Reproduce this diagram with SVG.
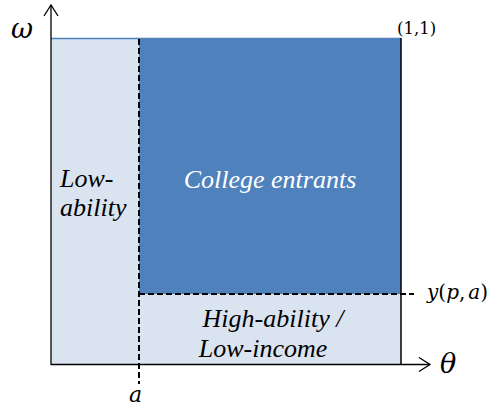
<svg xmlns="http://www.w3.org/2000/svg" width="502" height="410" viewBox="0 0 502 410">
<style>
.lab{font-family:"Liberation Serif","DejaVu Serif",serif;font-style:italic;font-size:26px;}
.math{font-family:"DejaVu Serif","Liberation Serif",serif;font-style:italic;}
.axis{stroke:#000;stroke-width:1.3;fill:none;}
.dash{stroke:#000;stroke-width:2;stroke-dasharray:6,3;fill:none;}
</style>
<defs>
<marker id="arr" markerWidth="14" markerHeight="16" refX="12" refY="8" orient="auto" markerUnits="userSpaceOnUse">
<path d="M1,1 L12,8 L1,15" fill="none" stroke="#000" stroke-width="1.3"/>
</marker>
</defs>
<rect width="502" height="410" fill="#fff"/>
<g id="low-ability">
<rect x="51" y="38.5" width="88" height="326" fill="#DAE3F0"/>
<text class="lab" x="60" y="187">Low-</text>
<text class="lab" x="60" y="216">ability</text>
</g>
<g id="college-entrants">
<rect x="139" y="38.5" width="262" height="255.5" fill="#4F81BD"/>
<text class="lab" x="270" y="188" text-anchor="middle" fill="#fff">College entrants</text>
</g>
<g id="high-ability-low-income">
<rect x="139" y="294" width="262" height="70.5" fill="#DAE3F0"/>
<text class="lab" x="273" y="327" text-anchor="middle">High-ability /</text>
<text class="lab" x="263" y="357" text-anchor="middle">Low-income</text>
</g>
<g id="connectors">
<line x1="51" y1="38.5" x2="401" y2="38.5" stroke="#4F81BD" stroke-width="1.5"/>
<line x1="401" y1="38" x2="401" y2="364.5" stroke="#000" stroke-width="1.5"/>
<line class="axis" x1="51" y1="365" x2="51" y2="5" marker-end="url(#arr)"/>
<line class="axis" x1="51" y1="364.5" x2="430" y2="364.5" marker-end="url(#arr)"/>
<line class="dash" x1="139" y1="39" x2="139" y2="384"/>
<line class="dash" x1="139" y1="294" x2="414" y2="294"/>
</g>
<g id="labels">
<text class="math" x="11" y="38" font-size="27">ω</text>
<text x="397" y="34" font-family="'DejaVu Serif',serif" font-size="16.5">(1,1)</text>
<text class="math" x="427" y="299" font-size="20">y<tspan font-style="normal">(</tspan>p<tspan font-style="normal">,</tspan><tspan dx="3">a</tspan><tspan font-style="normal">)</tspan></text>
<text class="math" x="440" y="373" font-size="27">θ</text>
<text class="math" x="129" y="402" font-size="22">a</text>
</g>
</svg>
